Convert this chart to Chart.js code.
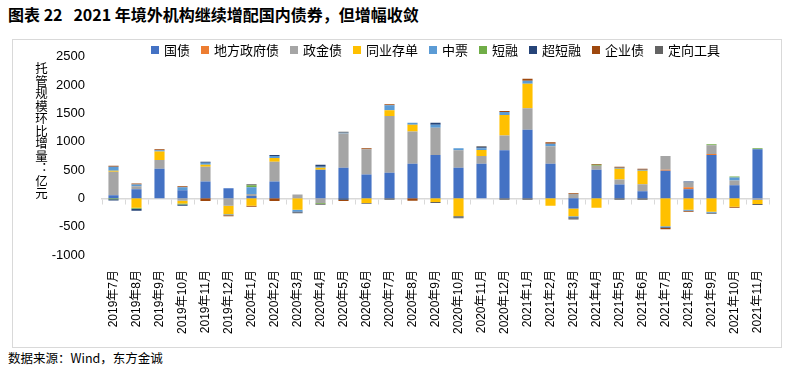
<!DOCTYPE html>
<html lang="zh">
<head>
<meta charset="utf-8">
<title>2021 年境外机构继续增配国内债券，但增幅收敛</title>
<script src="https://cdn.jsdelivr.net/npm/chart.js@4.4.1/dist/chart.umd.min.js"></script>
<style>
  body { margin: 0; background: #fff; font-family: "Noto Sans CJK SC", "Liberation Sans", sans-serif; color: #000; }
  .page { position: relative; width: 789px; height: 371px; overflow: hidden; }
  .title { position: absolute; left: 8px; top: 4px; font-size: 16px; font-weight: bold; line-height: 20px; white-space: pre; }
  .frame { position: absolute; left: 12px; top: 39px; width: 768px; height: 307px; border: 1px solid #d9d9d9; }
  .chart-box { position: absolute; left: 13px; top: 40px; width: 768px; height: 306px; }
  .ytitle { position: absolute; left: 35px; top: 62px; writing-mode: vertical-rl; font-size: 12.5px; line-height: 13px; }
  #legend { position: absolute; left: 102px; top: 41px; width: 667px; text-align: center; font-size: 13px; line-height: 16px; white-space: nowrap; }
  #legend .item { display: inline-flex; align-items: center; margin-right: 11px; }
  #legend .item:last-child { margin-right: 0; }
  #legend .item i { display: inline-block; width: 8px; height: 8px; margin-right: 5px; }
  .source { position: absolute; left: 8px; top: 350px; font-size: 12.5px; line-height: 16px; }
</style>
</head>
<body>
<div class="page">
  <div class="title">图表 22   2021 年境外机构继续增配国内债券，但增幅收敛</div>
  <div class="frame"></div>
  <div class="chart-box"><canvas id="chart"></canvas></div>
  <div class="ytitle">托管规模环比增量：亿元</div>
  <div id="legend"></div>
  <div class="source">数据来源：Wind，东方金诚</div>
</div>
<script>
const categories = [
  '2019年7月', '2019年8月', '2019年9月', '2019年10月', '2019年11月', '2019年12月',
  '2020年1月', '2020年2月', '2020年3月', '2020年4月', '2020年5月', '2020年6月',
  '2020年7月', '2020年8月', '2020年9月', '2020年10月', '2020年11月', '2020年12月',
  '2021年1月', '2021年2月', '2021年3月', '2021年4月', '2021年5月', '2021年6月',
  '2021年7月', '2021年8月', '2021年9月', '2021年10月', '2021年11月'
]

// 亿元
const guozhai   = [55, 160, 523, 144, 300, 178, 40, 300, 0, 506, 540, 420, 454, 610, 765, 540, 610, 851, 1213, 610, -178, 506, 247, 127, 489, 161, 765, 230, 868]
const difang    = [0, 0, 0, 0, 0, 0, 0, 0, 0, 0, 0, 0, 0, 0, 0, 0, 0, 0, 0, 0, 0, 0, 0, 0, 17, 35, 17, 0, 0]
const zhengjin  = [415, 52, 155, -40, 259, -132, 35, 345, 69, -80, 604, 449, 1000, 569, 483, 310, 138, 259, 380, 310, 75, 69, 86, 121, 241, 86, 155, 86, -29]
const tongye    = [17, -167, 150, -52, 35, -150, -132, 69, -201, 35, 0, -80, 104, 121, -63, -316, 104, 362, 431, -132, -138, -167, 190, 241, -494, -201, -236, -150, -69]
const zhongpiao = [70, 35, 23, 52, 35, -17, 121, 35, -29, 17, 17, 0, 86, 35, 52, 35, 35, 52, 52, 46, -17, 0, 17, 17, -17, -17, -17, 52, 0]
const duanrong  = [-17, -17, 0, -17, 0, 0, 35, 0, 0, -17, 0, 0, 0, 0, 0, 0, 0, 0, 0, 0, 0, 17, 0, 0, 0, 0, 17, 17, 17]
const chaoduan  = [-20, -35, 0, -23, 17, 0, 0, 17, -17, 35, -23, 0, 0, 0, 35, -17, 17, 0, 0, 0, -17, 0, 0, 0, -12, 17, 0, 0, 0]
const qiye      = [17, 17, 17, 17, -46, -17, -17, -46, 0, 0, -23, 17, 17, -40, 0, 0, 0, 17, 35, 23, 17, 17, 17, 17, -23, -17, 0, -17, 0]
const dingxiang = [0, 0, 0, 0, 0, 0, 17, 0, -17, -17, 17, -17, -23, 0, -17, -17, 17, -23, -23, 0, -23, 0, -23, -23, 0, 0, -17, 0, -17]

const seriesNames = ['国债', '地方政府债', '政金债', '同业存单', '中票', '短融', '超短融', '企业债', '定向工具']
const seriesData = [guozhai, difang, zhengjin, tongye, zhongpiao, duanrong, chaoduan, qiye, dingxiang]
const seriesColors = ['#4472c4', '#ed7d31', '#a5a5a5', '#ffc000', '#5b9bd5', '#70ad47', '#264478', '#9e480e', '#636363']

const yMin = -1000
const yMax = 2500
const yStep = 500

const numFont = '"Liberation Sans", "Noto Sans CJK SC", sans-serif'

const chart = new Chart(document.getElementById('chart'), {
  type: 'bar',
  data: {
    labels: categories,
    datasets: seriesNames.map((name, i) => ({
      label: name,
      data: seriesData[i],
      backgroundColor: seriesColors[i],
      borderWidth: 0,
    })),
  },
  options: {
    responsive: true,
    maintainAspectRatio: false,
    animation: false,
    layout: { padding: { top: 12, right: 12, left: 0, bottom: 0 } },
    datasets: { bar: { barPercentage: 0.44, categoryPercentage: 1 } },
    scales: {
      // axis line sitting on zero, only the small tick marks
      x: {
        stacked: true,
        position: { y: 0 },
        offset: true,
        ticks: { display: false },
        grid: { display: true, drawOnChartArea: false, drawTicks: true, tickLength: 5, offset: true, color: '#d9d9d9', lineWidth: 1 },
        border: { display: true, color: '#d9d9d9', width: 1.5 },
      },
      // labels at the bottom of the plot
      x2: {
        type: 'category',
        labels: categories,
        position: 'bottom',
        offset: true,
        grid: { display: false },
        border: { display: false },
        ticks: { autoSkip: false, minRotation: 90, maxRotation: 90, padding: 7, color: '#000', font: { family: numFont, size: 12 } },
        afterFit: s => { s.height = 91 },
      },
      y: {
        stacked: true,
        min: yMin,
        max: yMax,
        grid: { display: false },
        border: { display: false },
        ticks: { stepSize: yStep, padding: 9, color: '#000', font: { family: numFont, size: 13 }, callback: v => String(v) },
        afterFit: s => { s.width = 89 },
      },
    },
    plugins: {
      legend: { display: false },
      tooltip: { enabled: false },
    },
  },
})

// legend built from the chart's datasets
const legendEl = document.getElementById('legend')
chart.data.datasets.forEach(ds => {
  const item = document.createElement('span')
  item.className = 'item'
  const sw = document.createElement('i')
  sw.style.background = ds.backgroundColor
  item.append(sw, ds.label)
  legendEl.append(item)
})
</script>
</body>
</html>
